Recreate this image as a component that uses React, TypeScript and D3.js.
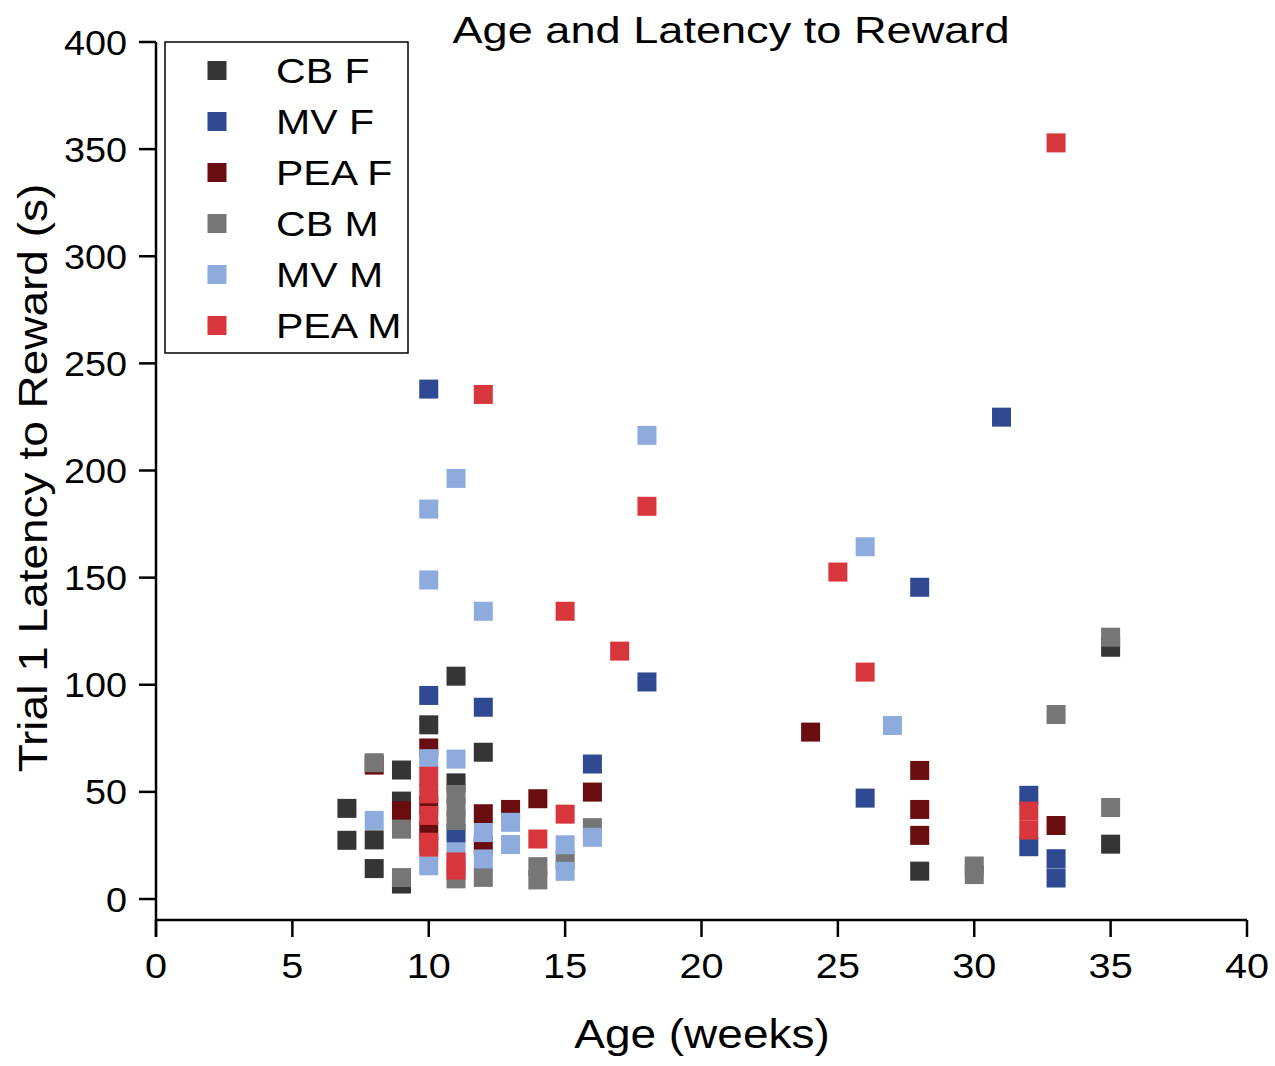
import React from "react";
import * as d3 from "d3";

const seriesNames = ["CB F", "MV F", "PEA F", "CB M", "MV M", "PEA M"];
const seriesColors = ["#353535", "#2f4a93", "#6a0d10", "#767676", "#8dabdd", "#d7373c"];

const cbF: [number, number][] = [[7,42.3],[7,27.4],[8,27.6],[8,14.2],[9,60.2],[9,45.7],[9,7],[10,81.3],[11,104],[11,54.2],[12,68.5],[28,13],[35,117.5],[35,25.6]];
const mvF: [number, number][] = [[10,238],[10,95],[11,30.7],[12,89.5],[16,63],[18,101.3],[26,47.1],[28,145.5],[31,224.9],[32,48.4],[32,24.4],[33,18.8],[33,9.8]];
const peaF: [number, number][] = [[8,62.5],[9,41.2],[10,70.5],[10,43.8],[10,32],[12,39.8],[12,25],[13,41.8],[14,46.8],[16,49.9],[24,77.9],[28,60],[28,41.8],[28,29.7],[33,34.3]];
const cbM: [number, number][] = [[8,63.6],[9,32.6],[9,10],[11,48.8],[11,42.7],[11,36.6],[11,9.4],[12,10.1],[14,15.1],[14,8.9],[15,18.2],[16,33.3],[30,15.4],[30,11.4],[33,86.1],[35,122.2],[35,42.7]];
const mvM: [number, number][] = [[8,36.7],[10,182],[10,148.9],[10,65.5],[10,15.5],[11,196.3],[11,65.3],[11,21.9],[12,134.3],[12,31],[12,18.7],[13,35.8],[13,25.4],[15,25.3],[15,12.9],[16,28.8],[18,216.4],[26,164.4],[27,81]];
const peaM: [number, number][] = [[10,57.3],[10,49.1],[10,39],[10,26.5],[10,24.2],[11,17.3],[11,13.5],[12,235.5],[14,28],[15,134.3],[15,39.6],[17,115.7],[18,183.3],[25,152.6],[26,105.9],[32,41],[32,32.2],[33,352.9]];

const allSeries = [cbF, mvF, peaF, cbM, mvM, peaM];
const xTicks = [0, 5, 10, 15, 20, 25, 30, 35, 40];
const yTicks = [0, 50, 100, 150, 200, 250, 300, 350, 400];

export default function App() {
  const W = 1275, H = 1066;
  const x = d3.scaleLinear().domain([0, 40]).range([156, 1247]);
  const y = d3.scaleLinear().domain([0, 400]).range([899, 42]);
  const xAxisY = 920;
  const ms = 19;
  const font = "'Liberation Sans', Arial, sans-serif";
  const sw = 2.5;
  return (
    <svg width={W} height={H} style={{ position: "absolute", left: 0, top: 0, background: "#fff" }} fontFamily={font}>
      {allSeries.map((s, i) => (
        <g key={i} fill={seriesColors[i]}>
          {s.map((d, j) => (
            <rect key={j} x={x(d[0]) - ms / 2} y={y(d[1]) - ms / 2} width={ms} height={ms} />
          ))}
        </g>
      ))}
      <line x1={x(0)} x2={x(0)} y1={y(400)} y2={xAxisY + 17} stroke="#000" strokeWidth={sw} />
      {yTicks.map((t) => (
        <g key={t}>
          <line x1={x(0) - 17} x2={x(0)} y1={y(t)} y2={y(t)} stroke="#000" strokeWidth={sw} />
          <text transform={`translate(127,${y(t)}) scale(1.08,1)`} dy="0.36em" textAnchor="end" fontSize={35}>{t}</text>
        </g>
      ))}
      <line x1={x(0)} x2={x(40)} y1={xAxisY} y2={xAxisY} stroke="#000" strokeWidth={sw} />
      {xTicks.map((t) => (
        <g key={t}>
          <line x1={x(t)} x2={x(t)} y1={xAxisY} y2={xAxisY + 17} stroke="#000" strokeWidth={sw} />
          <text transform={`translate(${x(t)},978) scale(1.1,1)`} textAnchor="middle" fontSize={36}>{t}</text>
        </g>
      ))}
      <text transform="translate(702,1048) scale(1.15,1)" textAnchor="middle" fontSize={40}>Age (weeks)</text>
      <text transform="translate(47,478) rotate(-90) scale(1.15,1)" textAnchor="middle" fontSize={40}>Trial 1 Latency to Reward (s)</text>
      <text transform="translate(731,43) scale(1.22,1)" textAnchor="middle" fontSize={37}>Age and Latency to Reward</text>
      <rect x={165} y={42} width={243} height={311} fill="#fff" stroke="#000" strokeWidth={1.5} />
      {seriesNames.map((n, i) => {
        const cy = 70.5 + i * 51;
        return (
          <g key={n}>
            <rect x={217 - ms / 2} y={cy - ms / 2} width={ms} height={ms} fill={seriesColors[i]} />
            <text transform={`translate(276,${cy}) scale(1.14,1)`} dy="0.36em" fontSize={36}>{n}</text>
          </g>
        );
      })}
    </svg>
  );
}
